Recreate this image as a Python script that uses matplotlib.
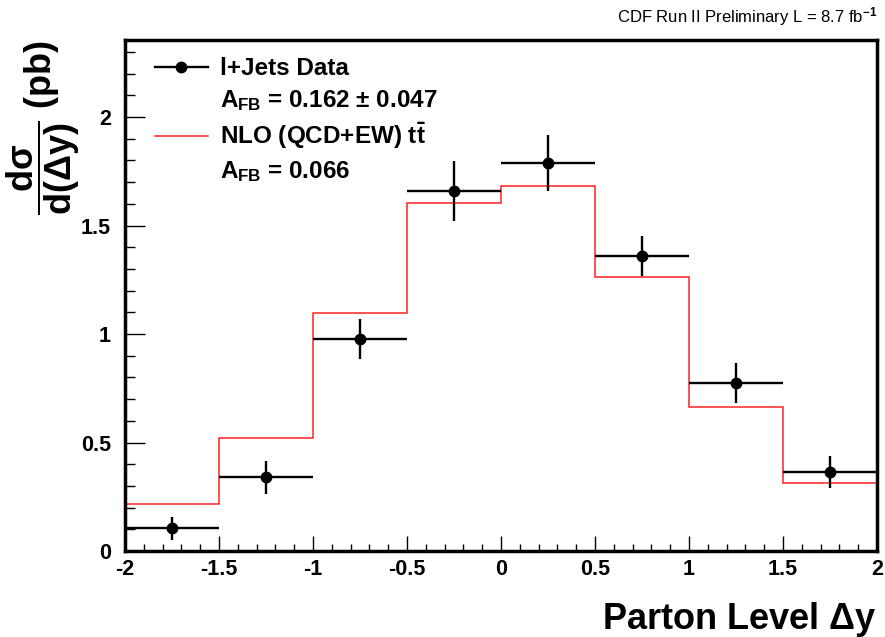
import matplotlib
matplotlib.use("Agg")
import matplotlib.pyplot as plt
from matplotlib.ticker import MultipleLocator
from matplotlib.lines import Line2D
import numpy as np

plt.rcParams['font.family'] = ['Liberation Sans', 'DejaVu Sans']
plt.rcParams['font.weight'] = 'bold'
plt.rcParams['mathtext.fontset'] = 'custom'
plt.rcParams['mathtext.rm'] = 'Liberation Sans:bold'
plt.rcParams['mathtext.it'] = 'Liberation Sans:bold'
plt.rcParams['mathtext.bf'] = 'Liberation Sans:bold'
plt.rcParams['mathtext.sf'] = 'Liberation Sans:bold'

# Data
bin_edges = [-2.0, -1.5, -1.0, -0.5, 0.0, 0.5, 1.0, 1.5, 2.0]
data_x = [-1.75, -1.25, -0.75, -0.25, 0.25, 0.75, 1.25, 1.75]
data_y = [0.105, 0.340, 0.977, 1.660, 1.787, 1.359, 0.773, 0.363]
data_err = [0.053, 0.076, 0.091, 0.138, 0.130, 0.092, 0.092, 0.074]
data_xerr = [0.25] * 8
nlo_y = [0.215, 0.519, 1.098, 1.605, 1.683, 1.264, 0.664, 0.312]

x_ticks = [-2, -1.5, -1, -0.5, 0, 0.5, 1, 1.5, 2]
x_ticklabels = ['-2', '-1.5', '-1', '-0.5', '0', '0.5', '1', '1.5', '2']
y_ticks = [0, 0.5, 1, 1.5, 2]
y_ticklabels = ['0', '0.5', '1', '1.5', '2']

W, H = 885, 637
fig = plt.figure(figsize=(W / 100, H / 100), dpi=100)
ax = fig.add_axes([125 / W, 1 - 551 / H, (877 - 125) / W, (551 - 40) / H])

ax.stairs(nlo_y, bin_edges, baseline=0, color='#ff2020', lw=1.1, zorder=2)
ax.errorbar(data_x, data_y, yerr=data_err, xerr=data_xerr, fmt='o', color='black',
            ms=7.5, elinewidth=1.7, capsize=0, zorder=3)

ax.set_xlim(-2, 2)
ax.set_ylim(0, 2.355)
ax.set_xticks(x_ticks)
ax.set_xticklabels(x_ticklabels)
ax.set_yticks(y_ticks)
ax.set_yticklabels(y_ticklabels)
ax.xaxis.set_minor_locator(MultipleLocator(0.1))
ax.yaxis.set_minor_locator(MultipleLocator(0.1))
ax.tick_params(axis='x', which='major', direction='in', length=10.8, width=1.0, pad=6, labelsize=15.5)
ax.tick_params(axis='x', which='minor', direction='in', length=5, width=1.0)
ax.tick_params(axis='y', which='major', direction='in', length=14.4, width=1.0, pad=10, labelsize=15.5)
ax.tick_params(axis='y', which='minor', direction='in', length=7.2, width=1.0)
for lab in ax.get_xticklabels() + ax.get_yticklabels():
    lab.set_fontweight('bold')
for s in ax.spines.values():
    s.set_linewidth(2.5)

# Legend
handles = [
    Line2D([], [], color='black', marker='o', ms=7.5, lw=1.7),
    Line2D([], [], color='none'),
    Line2D([], [], color='#ff2020', lw=1.1),
    Line2D([], [], color='none'),
]
labels = [
    'l+Jets Data',
    r'$A_{FB}$ = 0.162 $\pm$ 0.047',
    r'NLO (QCD+EW) $t\bar{t}$',
    r'$A_{FB}$ = 0.066',
]
leg = ax.legend(handles, labels, loc='upper left', bbox_to_anchor=(0.02, 0.995),
                frameon=False, fontsize=17.5, handlelength=2.2, handletextpad=0.5,
                labelspacing=0.33, borderaxespad=0.2)
for t in leg.get_texts():
    t.set_fontweight('bold')

ax.set_xlabel(r'Parton Level $\Delta$y', fontsize=26, fontweight='bold', loc='right')
ax.xaxis.set_label_coords(1.0, -0.095)

fig.text(43 / W, 1 - 40 / H, r'$\dfrac{d\sigma}{d(\Delta y)}$ (pb)', rotation=90,
         ha='center', va='top', fontsize=26, fontweight='bold')

fig.text(877 / W, 1 - 17 / H, r'CDF Run II Preliminary L = 8.7 fb$^{-1}$',
         ha='right', va='center', fontsize=12, fontweight='normal',
         family=['Liberation Sans Narrow', 'Liberation Sans', 'DejaVu Sans'])

fig.savefig('out.png', dpi=100)
